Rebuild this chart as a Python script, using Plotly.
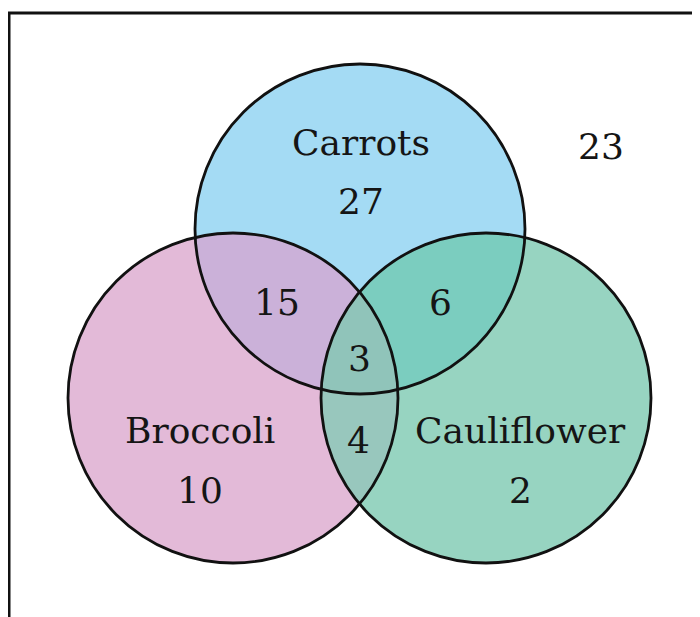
import numpy as np
import plotly.graph_objects as go

# ---- data ----
set_names = ["Carrots", "Broccoli", "Cauliflower"]
only_counts = [27, 10, 2]
pair_names = ["Carrots & Broccoli", "Carrots & Cauliflower", "Broccoli & Cauliflower"]
pair_counts = [15, 6, 4]
all_three = 3
neither = 23

# ---- layout geometry (pixel space) ----
centers = [(360, 229), (233, 398), (486, 398)]
radius = 165
fills = ["#A4DBF4", "#E3BAD8", "#97D4C1"]
pair_fills = {(0, 1): "#CBB1D9", (0, 2): "#7BCDBF", (1, 2): "#98C7BD"}
triple_fill = "#90C4BA"
text_color = "#151515"
font_family = "DejaVu Serif, serif"
page_offset = 8  # body margin of the html page

def circle_pts(i, n=720):
    t = np.linspace(0, 2 * np.pi, n, endpoint=False)
    cx, cy = centers[i]
    return np.column_stack([cx + radius * np.cos(t), cy + radius * np.sin(t)])

def inside(pts, j):
    cx, cy = centers[j]
    return (pts[:, 0] - cx) ** 2 + (pts[:, 1] - cy) ** 2 <= radius ** 2 + 1e-6

def region(idx):
    pts = []
    for i in idx:
        p = circle_pts(i)
        m = np.ones(len(p), bool)
        for j in idx:
            if j != i:
                m &= inside(p, j)
        pts.append(p[m])
    pts = np.vstack(pts)
    c = pts.mean(axis=0)
    ang = np.arctan2(pts[:, 1] - c[1], pts[:, 0] - c[0])
    pts = pts[np.argsort(ang)]
    return np.vstack([pts, pts[:1]])

fig = go.Figure()

def add_poly(pts, color):
    fig.add_trace(go.Scatter(x=pts[:, 0], y=pts[:, 1], mode="lines", fill="toself",
                             fillcolor=color, line=dict(width=0, color=color),
                             hoverinfo="skip", showlegend=False))

for i in range(3):
    p = circle_pts(i)
    add_poly(np.vstack([p, p[:1]]), fills[i])
for (i, j), col in pair_fills.items():
    add_poly(region([i, j]), col)
add_poly(region([0, 1, 2]), triple_fill)

# outlines
for i in range(3):
    cx, cy = centers[i]
    fig.add_shape(type="circle", x0=cx - radius, x1=cx + radius, y0=cy - radius, y1=cy + radius,
                  line=dict(color="#111111", width=2.8), layer="above")

# frame
fig.add_shape(type="rect", x0=9, y0=13, x1=760, y1=680, line=dict(color="#111111", width=3),
              layer="above")

# text
label_pos = [(361, 142), (200, 430), (520, 430)]
count_pos = [(361, 201), (200, 490), (520, 490)]
pair_pos = [(277, 302), (440, 302), (358, 440)]
texts = []
for name, (x, y) in zip(set_names, label_pos):
    texts.append((name, x, y))
for v, (x, y) in zip(only_counts, count_pos):
    texts.append((str(v), x, y))
for v, (x, y) in zip(pair_counts, pair_pos):
    texts.append((str(v), x, y))
texts.append((str(all_three), 359, 358))
texts.append((str(neither), 601, 146))

for t, x, y in texts:
    fig.add_annotation(x=x, y=y, text=t, showarrow=False, xanchor="center", yanchor="middle",
                       font=dict(family=font_family, size=36, color=text_color))

fig.update_layout(width=700, height=617, autosize=False,
                  margin=dict(l=0, r=0, t=0, b=0),
                  paper_bgcolor="white", plot_bgcolor="white",
                  xaxis=dict(range=[page_offset, 700 + page_offset], visible=False, fixedrange=True),
                  yaxis=dict(range=[617 + page_offset, page_offset], visible=False, fixedrange=True),
                  showlegend=False)

fig.write_html("out.html")
